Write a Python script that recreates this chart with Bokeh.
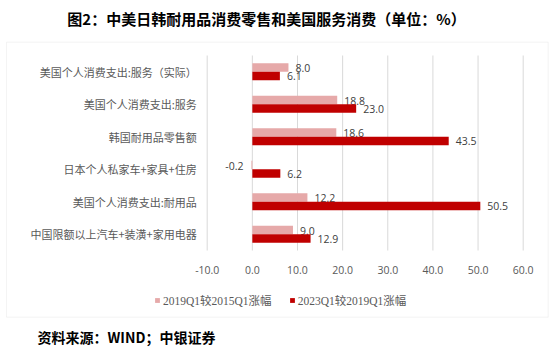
from bokeh.plotting import figure
from bokeh.models import (Range1d, Legend, LegendItem, ColumnDataSource,
                          Label, BoxAnnotation)
from bokeh.core.properties import value, field
from bokeh.embed import file_html
from bokeh.resources import INLINE

# ---------------- data ----------------
categories = [
    "美国个人消费支出:服务（实际）",
    "美国个人消费支出:服务",
    "韩国耐用品零售额",
    "日本个人私家车+家具+住房",
    "美国个人消费支出:耐用品",
    "中国限额以上汽车+装潢+家用电器",
]
series_names = ["2019Q1较2015Q1涨幅", "2023Q1较2019Q1涨幅"]
growth_2019_vs_2015 = [8.0, 18.8, 18.6, -0.2, 12.2, 9.0]
growth_2023_vs_2019 = [6.1, 23.0, 43.5, 6.2, 50.5, 12.9]
x_ticks = [-10, 0, 10, 20, 30, 40, 50, 60]
x_tick_labels = ["-10.0", "0.0", "10.0", "20.0", "30.0", "40.0", "50.0", "60.0"]
title_text = "图2：中美日韩耐用品消费零售和美国服务消费（单位：%）"
source_text = "资料来源：WIND；中银证券"

# ---------------- layout / styles ----------------
W, H = 550, 362
PLOT_L, PLOT_R, PLOT_T, PLOT_B = 206.7, 522.7, 55.0, 250.0   # plot area (px)
LIGHT = "#E6A9A9"
DARK = "#C00000"
GRID = "#D9D9D9"
TXT = "#595959"
VAL = "#404040"
CJK_SERIF = "Liberation Serif, Noto Sans CJK SC"

n = len(categories)
ypos = [n - 1 - i for i in range(n)]          # category slots, top to bottom
x0, x1 = x_ticks[0], x_ticks[-1]
xs = (PLOT_R - PLOT_L) / (x1 - x0)
y_lo, y_hi = -0.5, n - 0.5
ys = (PLOT_B - PLOT_T) / (y_hi - y_lo)

p = figure(width=W, height=H,
           x_range=Range1d(x0 - PLOT_L / xs, x1 + (W - PLOT_R) / xs),
           y_range=Range1d(y_lo - (H - PLOT_B) / ys, y_hi + PLOT_T / ys),
           x_axis_type=None, y_axis_type=None,
           output_backend="svg", toolbar_location=None, min_border=0)
p.outline_line_color = None
p.background_fill_color = "white"
p.border_fill_color = "white"

# chart border
p.add_layout(BoxAnnotation(left=6, right=547.7, top=H - 41.7, bottom=H - 316.7,
                           left_units="screen", right_units="screen",
                           top_units="screen", bottom_units="screen",
                           fill_color=None, line_color=GRID, line_width=1,
                           level="underlay"))

# vertical grid lines at the x ticks
grid_src = ColumnDataSource(dict(x=x_ticks, y0=[y_lo] * len(x_ticks),
                                 y1=[y_hi] * len(x_ticks)))
p.segment(x0="x", x1="x", y0="y0", y1="y1", source=grid_src,
          line_color=GRID, line_width=1)

# x tick labels
p.text(x=x_ticks, y=[y_lo] * len(x_ticks), text=x_tick_labels, y_offset=19,
       text_align="center", text_baseline="middle", text_font=value("Open Sans"),
       text_font_size="10.5px", text_color=TXT)

# category labels
p.text(x=[x0] * n, y=ypos, text=categories, x_offset=-10.5,
       text_align="right", text_baseline="middle",
       text_font=value("Noto Sans CJK SC"), text_font_size="11px",
       text_color=TXT)

renderers = []
for vals, color, off in [(growth_2019_vs_2015, LIGHT, 0.13),
                         (growth_2023_vs_2019, DARK, -0.13)]:
    src = ColumnDataSource(dict(
        y=[v + off for v in ypos],
        val=vals,
        label=[f"{v:.1f}" for v in vals],
        align=["left" if v >= 0 else "right" for v in vals],
        xoff=[7 if v >= 0 else -8 for v in vals],
    ))
    r = p.hbar(y="y", left=0, right="val", height=0.26, source=src,
               fill_color=color, line_color=None)
    renderers.append(r)
    p.text(x="val", y="y", text="label", source=src,
           text_align=field("align"), x_offset="xoff", y_offset=0.5,
           text_baseline="middle", text_font=value("Open Sans"),
           text_font_size="10.5px", text_color=VAL)

legend = Legend(items=[LegendItem(label=series_names[0], renderers=[renderers[0]]),
                       LegendItem(label=series_names[1], renderers=[renderers[1]])],
                location=(154, H - 308), orientation="horizontal",
                glyph_width=6, glyph_height=6, label_standoff=3, spacing=17,
                padding=0, margin=0, label_height=12,
                label_text_font=CJK_SERIF, label_text_font_size="11.5px",
                label_text_color=TXT, border_line_color=None,
                background_fill_alpha=0)
p.add_layout(legend)

p.add_layout(Label(x=266, y=H - 17.5, x_units="screen", y_units="screen",
                   text=title_text, text_align="center", text_baseline="middle",
                   text_font="Noto Sans CJK SC", text_font_style="bold",
                   text_font_size="15px", text_color="black"))
p.add_layout(Label(x=37, y=H - 336.7, x_units="screen", y_units="screen",
                   text=source_text, text_align="left", text_baseline="middle",
                   text_font="Noto Sans CJK SC", text_font_style="bold",
                   text_font_size="14px", text_color="black"))

open("out.html", "w").write(file_html(p, INLINE))
